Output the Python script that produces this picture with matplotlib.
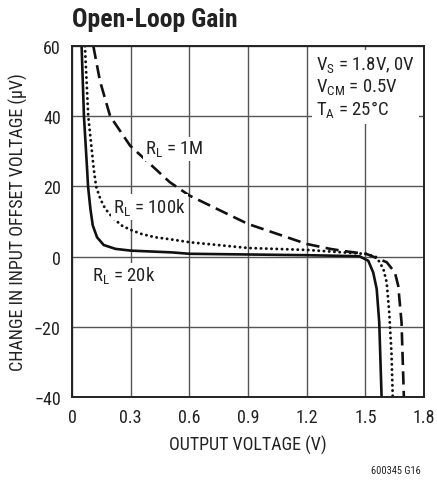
import matplotlib
matplotlib.use("Agg")
import matplotlib.pyplot as plt

plt.rcParams['font.family'] = ['Roboto Condensed', 'DejaVu Sans']
plt.rcParams['mathtext.fontset'] = 'custom'
plt.rcParams['mathtext.rm'] = 'Roboto Condensed'

# R_L = 20k (solid)
x_20k = [0.049, 0.061, 0.077, 0.082, 0.094, 0.106, 0.128, 0.162, 0.222, 0.30,
         0.426, 0.51, 0.6, 0.9, 1.2, 1.47, 1.515, 1.54, 1.558, 1.571, 1.583]
y_20k = [60, 40, 25, 20, 13.6, 8.9, 5.5, 3.3, 2.2, 1.7,
         1.4, 1.2, 0.8, 0.6, 0.4, 0.1, -1.2, -4.5, -9.2, -18.7, -40]

# R_L = 100k (dotted)
x_100k = [0.066, 0.083, 0.111, 0.123, 0.145, 0.17, 0.213, 0.256, 0.30, 0.358, 0.426,
          0.494, 0.6, 0.9, 1.2, 1.506, 1.558, 1.592, 1.609, 1.622, 1.634, 1.64]
y_100k = [60, 40, 25, 20, 16.4, 13.6, 10.8, 8.8, 7.6, 6.4, 5.5,
          5.0, 4.1, 2.45, 1.9, 0.75, -0.2, -3.5, -7.3, -15.8, -28, -40]

# R_L = 1M (dashed)
x_1m = [0.109, 0.143, 0.195, 0.297, 0.426, 0.50, 0.6, 0.9, 1.2, 1.32, 1.4,
        1.506, 1.609, 1.651, 1.668, 1.685, 1.697]
y_1m = [60, 50, 40, 31.6, 25, 21.2, 17.4, 9.3, 3.6, 2.2, 1.5,
        0.75, -1.6, -4.5, -8.3, -18.7, -40]

xticks = [0, 0.3, 0.6, 0.9, 1.2, 1.5, 1.8]
xticklabels = ['0', '0.3', '0.6', '0.9', '1.2', '1.5', '1.8']
yticks = [-40, -20, 0, 20, 40, 60]

fig = plt.figure(figsize=(4.37, 4.85), dpi=100)
ax = fig.add_axes([0.1648, 0.1794, 0.8055, 0.7237])

ax.plot(x_20k, y_20k, color='#111111', lw=1.9, solid_joinstyle='round')
ax.plot(x_100k, y_100k, color='#111111', lw=2.1, linestyle=(0, (0.05, 1.75)),
        dash_capstyle='round')
ax.plot(x_1m, y_1m, color='#111111', lw=1.9, linestyle=(0, (5.0, 2.4)),
        dash_capstyle='butt')

ax.set_xlim(0, 1.8)
ax.set_ylim(-40, 60)
ax.set_xticks(xticks)
ax.set_xticklabels(xticklabels)
ax.set_yticks(yticks)
ax.grid(True, color='#555555', lw=1.0)
ax.set_axisbelow(True)
ax.tick_params(length=0, labelsize=13, pad=8, colors='#222222')
for s in ax.spines.values():
    s.set_linewidth(1.4)
    s.set_color('#222222')

ax.set_xlabel('OUTPUT VOLTAGE (V)', fontsize=13, color='#222222', labelpad=6)
ax.set_ylabel('CHANGE IN INPUT OFFSET VOLTAGE (µV)', fontsize=13, color='#222222',
              labelpad=4)

fig.text(0.165, 0.958, 'Open-Loop Gain', fontsize=18.5, fontweight='bold',
         color='#222222', ha='left', va='center')

box = dict(facecolor='white', edgecolor='none', pad=1.5)
ax.text(0.373, 30.7, r'R$_\mathregular{L}$ = 1M', fontsize=13.5, color='#222222',
        va='center', bbox=box)
ax.text(0.211, 14.1, r'R$_\mathregular{L}$ = 100k', fontsize=13.5, color='#222222',
        va='center', bbox=box)
ax.text(0.10, -5.4, r'R$_\mathregular{L}$ = 20k', fontsize=13.5, color='#222222',
        va='center', bbox=box)
ax.text(1.247, 48.3,
        'V$_\\mathregular{S}$ = 1.8V, 0V\nV$_\\mathregular{CM}$ = 0.5V\nT$_\\mathregular{A}$ = 25°C',
        fontsize=13.5, color='#222222', va='center', ha='left', linespacing=1.1,
        bbox=dict(facecolor='white', edgecolor='none', pad=3))

fig.text(0.963, 0.018, '600345 G16', fontsize=7.5, color='#222222', ha='right',
         va='bottom')

fig.savefig('out.png', dpi=100)
